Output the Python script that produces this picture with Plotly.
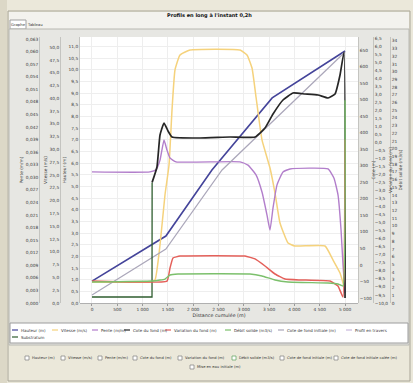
import plotly.graph_objects as go

# ---------------- data ----------------
hauteur_x = [0, 1460, 2370, 3560, 5000]
hauteur_y = [0.94, 2.87, 5.70, 8.79, 10.80]

vitesse_x = [0, 1146, 1245, 1344, 1442, 1522, 1581, 1640, 1739, 1936, 2924, 3063, 3162, 3241,
             3359, 3517, 3616, 3715, 3873, 4011, 4604, 4762, 4901, 4960, 5000]
vitesse_y = [4.11, 4.11, 4.50, 11.34, 21.11, 26.98, 37.73, 45.55, 48.48, 49.46, 49.46, 48.48, 45.94, 40.27,
             31.87, 26.39, 21.50, 15.64, 11.73, 11.14, 11.14, 8.41, 5.86, 3.91, 2.54]

pente_x = [0, 1146, 1265, 1344, 1423, 1482, 1541, 1660, 2924, 3083, 3241, 3359, 3458, 3517,
           3577, 3656, 3774, 3912, 4664, 4782, 4861, 4921, 4960, 5000]
pente_y = [0.0313, 0.0313, 0.0318, 0.0341, 0.0389, 0.0365, 0.0346, 0.0337, 0.0337, 0.0329, 0.0306, 0.0265,
           0.0210, 0.0174, 0.0227, 0.0282, 0.0313, 0.0320, 0.0320, 0.0298, 0.0258, 0.0174, 0.0091, 0.0024]

cote_fond_x = [1188, 1284, 1344, 1423, 1502, 1581, 2134, 2727, 3221, 3418, 3577, 3774, 3972,
               4209, 4466, 4664, 4802, 4901, 4980, 5000]
cote_fond_y = [250.0, 296.6, 393.4, 429.7, 405.5, 387.4, 384.3, 387.4, 387.4, 414.6, 457.0, 499.3, 520.5,
               517.5, 514.5, 505.4, 517.5, 575.0, 644.6, -99.9]

variation_x = [0, 1482, 1541, 1600, 1739, 3023, 3221, 3418, 3616, 3814, 4110, 4703, 4861, 4960, 5000]
variation_y = [-8.63, -8.63, -7.82, -7.19, -7.07, -7.07, -7.25, -7.69, -8.19, -8.50, -8.56, -8.63, -8.94,
               -9.63, 0.2]

debit_x = [0, 1186, 1344, 1442, 1541, 1699, 3122, 3359, 3616, 3873, 4664, 4861, 4960, 5000]
debit_y = [2.72, 2.85, 2.98, 3.11, 3.63, 3.76, 3.76, 3.50, 2.98, 2.72, 2.59, 2.46, 2.20, 26.3]

fond_init_x = [0, 1460, 2570, 5000]
fond_init_y = [-90.8, 48.4, 287.5, 644.6]

substratum_x = [0, 1186, 1188]
substratum_y = [-96.8, -96.8, 250.0]

x_ticks = [0, 500, 1000, 1500, 2000, 2500, 3000, 3500, 4000, 4500, 5000]

legend_names = ["Hauteur (m)", "Vitesse (m/s)", "Pente (m/m)", "Cote du fond (m)",
                "Variation du fond (m)", "Débit solide (m3/s)", "Cote de fond initiale (m)",
                "Profil en travers", "Substratum"]
check_names = ["Hauteur (m)", "Vitesse (m/s)", "Pente (m/m)", "Cote du fond (m)",
               "Variation du fond (m)", "Débit solide (m3/s)", "Cote de fond initiale (m)",
               "Cote de fond initiale calée (m)", "Mise en eau initiale (m)"]

# ---------------- styles / layout helpers ----------------
C_NAVY = "#44449a"
C_YEL = "#f5d27c"
C_PUR = "#b27ecb"
C_BLK = "#262626"
C_RED = "#e4605a"
C_GRN = "#7cc06c"
C_GRY = "#aba7ba"
C_DGR = "#2f5e2f"
C_LAV = "#c9b8dc"
legend_colors = [C_NAVY, C_YEL, C_PUR, C_BLK, C_RED, C_GRN, C_GRY, C_LAV, C_DGR]

W, H = 413, 383
ML, MR, MT, MB = 10, 5, 37, 80
PW = W - ML - MR
PH = H - MT - MB


def XP(px):
    return (px - ML) / PW


def YP(py):
    return (H - MB - py) / PH


FONT = "DejaVu Sans"
TF = dict(family=FONT, size=4.3, color="#3a3a3a")

fig = go.Figure()

fig.add_trace(go.Scatter(x=fond_init_x, y=fond_init_y, yaxis="y4", mode="lines",
                         line=dict(color=C_GRY, width=1.2), name=legend_names[6]))
fig.add_trace(go.Scatter(x=hauteur_x, y=hauteur_y, yaxis="y", mode="lines",
                         line=dict(color=C_NAVY, width=1.6), name=legend_names[0]))
fig.add_trace(go.Scatter(x=substratum_x, y=substratum_y, yaxis="y4", mode="lines",
                         line=dict(color=C_DGR, width=1.3), name=legend_names[8]))
fig.add_trace(go.Scatter(x=cote_fond_x, y=cote_fond_y, yaxis="y4", mode="lines",
                         line=dict(color=C_BLK, width=1.7, shape="spline", smoothing=0.4),
                         name=legend_names[3]))
fig.add_trace(go.Scatter(x=vitesse_x, y=vitesse_y, yaxis="y2", mode="lines",
                         line=dict(color=C_YEL, width=1.5, shape="spline", smoothing=0.4),
                         name=legend_names[1]))
fig.add_trace(go.Scatter(x=pente_x, y=pente_y, yaxis="y3", mode="lines",
                         line=dict(color=C_PUR, width=1.4, shape="spline", smoothing=0.4),
                         name=legend_names[2]))
fig.add_trace(go.Scatter(x=debit_x, y=debit_y, yaxis="y6", mode="lines",
                         line=dict(color=C_GRN, width=1.4, shape="spline", smoothing=0.3),
                         name=legend_names[5]))
fig.add_trace(go.Scatter(x=variation_x, y=variation_y, yaxis="y5", mode="lines",
                         line=dict(color=C_RED, width=1.5, shape="spline", smoothing=0.3),
                         name=legend_names[4]))


def yax(pos, rng, dtick, fmt, title, side="left", grid=False, overlay=True):
    d = dict(anchor="free", position=pos, side=side, range=rng, dtick=dtick,
             tickformat=fmt, tickfont=TF, showline=True, linecolor="#c4c4c0", linewidth=1,
             ticks="", zeroline=False, showgrid=grid, gridcolor="#eeeeee",
             automargin=False, domain=[0, 1],
             title=dict(text=title, font=dict(family=FONT, size=4.3, color="#3a3a3a"), standoff=1))
    if overlay:
        d["overlaying"] = "y"
    return d


fig.update_layout(
    width=W, height=H,
    margin=dict(l=ML, r=MR, t=MT, b=MB),
    paper_bgcolor="#ebe8da",
    plot_bgcolor="#ffffff",
    separators=", ",
    showlegend=False,
    font=dict(family=FONT, size=5, color="#333"),
    xaxis=dict(domain=[XP(80), XP(358)], range=[-237, 5256], tickvals=x_ticks,
               tickformat=",d", tickfont=TF, showgrid=True, gridcolor="#eeeeee",
               zeroline=False, showline=True, linecolor="#b0b0b0", ticks="outside",
               ticklen=2, tickcolor="#999", automargin=False, anchor="y",
               title=dict(text="Distance cumulée (m)", font=dict(family=FONT, size=4.8, color="#333"),
                          standoff=2)),
    yaxis=yax(XP(79), [0, 11.4], 0.5, ".1f", "Hauteur (m)", grid=True, overlay=False),
    yaxis2=yax(XP(60), [0, 52], 2.5, ".1f", "Vitesse (m/s)"),
    yaxis3=yax(XP(39), [0, 0.0635], 0.003, ".3f", "Pente (m/m)"),
    yaxis4=yax(XP(358), [-115, 690], 50, ",d", "Cote (m)", side="right"),
    yaxis5=yax(XP(373), [-10, 6.6], 0.5, ".1f", "Variation du fond (m)", side="right"),
    yaxis6=yax(XP(390), [0, 34.5], 1, "d", "Débit solide (m3/s)", side="right"),
)

shapes = []


def rect(x0, y0, x1, y1, fill, line=None, lw=1):
    shapes.append(dict(type="rect", xref="paper", yref="paper", layer="below",
                       x0=XP(x0), x1=XP(x1), y0=YP(y1), y1=YP(y0), fillcolor=fill,
                       line=dict(color=line or fill, width=lw if line else 0)))


rect(0, 0, 7, 383, "#dcd8c7")
rect(8, 11, 410, 381, "#ebe8da", "#a8a597")
rect(9, 12, 409, 29, "#f3f2ee")
rect(10, 20, 26, 29, "#ffffff", "#a0a0a0")
rect(9, 29, 409, 345, "#e7e7e3", "#b8b8b2")
rect(80, 37, 358, 303, "#ffffff")
rect(10, 323, 408, 343, "#ffffff", "#9c9c9c")

annotations = []


def text(px, py, s, size=4.2, anchor="left", bold=False, color="#333"):
    annotations.append(dict(xref="paper", yref="paper", x=XP(px), y=YP(py), text=("<b>%s</b>" % s) if bold else s,
                            showarrow=False, xanchor=anchor, yanchor="middle",
                            font=dict(family=FONT, size=size, color=color)))


text(210, 16, "Profils en long à l'instant 0,2h", size=5, anchor="center", bold=True, color="#111")
text(18, 25, "Graphe", size=3.8, anchor="center")
text(35, 25, "Tableau", size=3.8, anchor="center")

# manual legend box
leg_pos = [(12, 330), (52, 330), (92, 330), (124, 330), (165, 330), (225, 330), (278, 330), (346, 330), (12, 337)]
for (lx, ly), name, col in zip(leg_pos, legend_names, legend_colors):
    shapes.append(dict(type="line", xref="paper", yref="paper", x0=XP(lx), x1=XP(lx + 6),
                       y0=YP(ly), y1=YP(ly), line=dict(color=col, width=1.2)))
    text(lx + 7, ly, name, size=4.0)

# check boxes
chk_pos = [(25, 358), (61, 358), (98, 358), (133, 358), (178, 358), (232, 358), (280, 358), (334, 358), (190, 367)]
for i, ((cx, cy), name) in enumerate(zip(chk_pos, check_names)):
    lc = "#6aa86a" if i == 5 else "#8a8a8a"
    shapes.append(dict(type="rect", xref="paper", yref="paper", x0=XP(cx), x1=XP(cx + 4),
                       y0=YP(cy + 2), y1=YP(cy - 2), fillcolor="#ffffff", line=dict(color=lc, width=0.8)))
    text(cx + 5, cy, name, size=3.7)

fig.update_layout(shapes=shapes, annotations=annotations)
fig.write_html("out.html", config={"displayModeBar": False},
               post_script="document.body.style.margin='0';document.body.style.overflow='hidden';")
